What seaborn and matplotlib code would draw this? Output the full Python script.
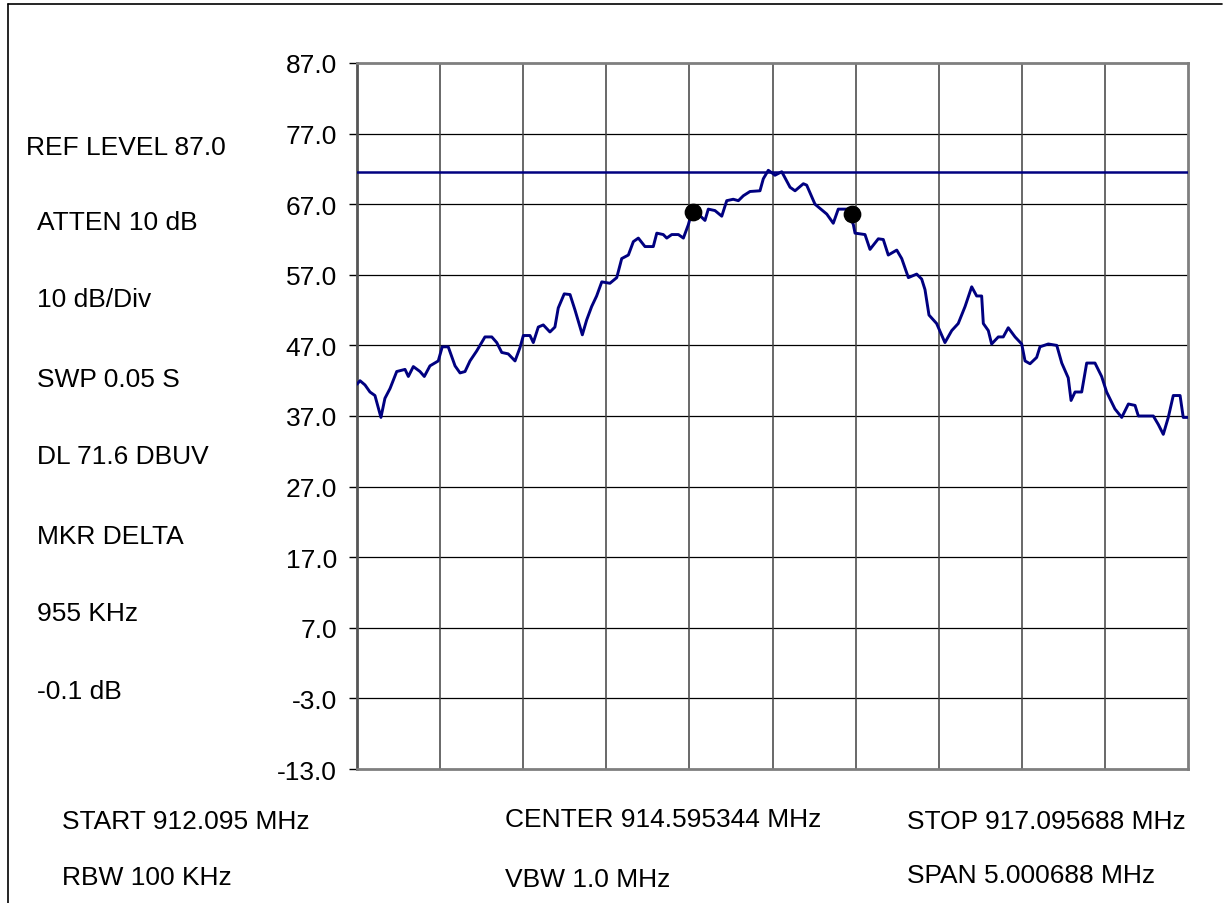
import matplotlib
matplotlib.use("Agg")
import matplotlib.pyplot as plt
import seaborn as sns
import pandas as pd
import numpy as np
from matplotlib.lines import Line2D

# ---- data ----
freq_mhz = [
    912.095, 912.113, 912.143, 912.173, 912.203, 912.239, 912.263, 912.294, 912.334, 912.384,
    912.404, 912.434, 912.474, 912.500, 912.534, 912.584, 912.608, 912.644, 912.685, 912.715,
    912.745, 912.775, 912.815, 912.865, 912.906, 912.936, 912.966, 913.005, 913.046, 913.076,
    913.096, 913.136, 913.156, 913.186, 913.216, 913.256, 913.286, 913.306, 913.342, 913.377,
    913.407, 913.451, 913.477, 913.507, 913.537, 913.568, 913.617, 913.658, 913.688, 913.728,
    913.758, 913.788, 913.828, 913.878, 913.899, 913.938, 913.959, 913.989, 914.029, 914.059,
    914.089, 914.109, 914.149, 914.189, 914.209, 914.249, 914.290, 914.320, 914.359, 914.390,
    914.420, 914.460, 914.520, 914.540, 914.570, 914.600, 914.610, 914.651, 914.701, 914.731,
    914.781, 914.801, 914.851, 914.922, 914.961, 914.991, 915.042, 915.082, 915.092, 915.152,
    915.182, 915.232, 915.262, 915.292, 915.343, 915.373, 915.413, 915.463, 915.493, 915.513,
    915.537, 915.583, 915.633, 915.674, 915.713, 915.754, 915.794, 915.824, 915.854, 915.864,
    915.894, 915.914, 915.954, 915.984, 916.014, 916.055, 916.095, 916.115, 916.145, 916.185,
    916.205, 916.255, 916.306, 916.336, 916.375, 916.392, 916.416, 916.456, 916.486, 916.536,
    916.576, 916.606, 916.656, 916.697, 916.737, 916.777, 916.797, 916.887, 916.917, 916.947,
    916.977, 917.007, 917.048, 917.067, 917.096,
]
level_dbuv = [
    41.5, 42.0, 41.4, 40.4, 39.9, 36.8, 39.5, 40.9, 43.3, 43.6,
    42.6, 44.0, 43.3, 42.6, 44.1, 44.8, 46.8, 46.8, 44.1, 43.1,
    43.3, 44.8, 46.2, 48.2, 48.2, 47.4, 46.0, 45.8, 44.8, 46.7,
    48.4, 48.4, 47.4, 49.6, 49.9, 48.9, 49.6, 52.3, 54.3, 54.2,
    52.0, 48.5, 50.6, 52.5, 54.0, 56.0, 55.8, 56.6, 59.3, 59.8,
    61.7, 62.2, 61.0, 61.0, 62.9, 62.7, 62.2, 62.7, 62.7, 62.2,
    64.1, 65.8, 65.6, 64.7, 66.3, 66.1, 65.3, 67.5, 67.7, 67.5,
    68.2, 68.8, 68.9, 70.6, 71.8, 71.3, 71.1, 71.6, 69.4, 68.9,
    69.9, 69.7, 67.0, 65.6, 64.3, 66.3, 66.3, 64.1, 62.9, 62.7,
    60.6, 62.1, 62.0, 59.8, 60.5, 59.3, 56.6, 57.1, 56.4, 54.9,
    51.3, 50.1, 47.4, 49.1, 50.1, 52.5, 55.3, 54.0, 54.0, 50.1,
    49.1, 47.2, 48.2, 48.2, 49.5, 48.2, 47.2, 44.8, 44.4, 45.3,
    46.8, 47.2, 47.0, 44.5, 42.4, 39.2, 40.4, 40.4, 44.5, 44.5,
    42.6, 40.4, 38.0, 36.8, 38.7, 38.5, 37.0, 37.0, 35.8, 34.4,
    36.8, 39.9, 39.9, 36.8, 36.8,
]
marker_freq = [914.117, 915.072]
marker_level = [65.9, 65.6]
display_line = 71.6

start_mhz = 912.095
stop_mhz = 917.095688
y_ticks = [87.0, 77.0, 67.0, 57.0, 47.0, 37.0, 27.0, 17.0, 7.0, -3.0, -13.0]

left_labels = ["REF LEVEL 87.0", "ATTEN 10 dB", "10 dB/Div", "SWP 0.05 S",
               "DL 71.6 DBUV", "MKR DELTA", "955 KHz", "-0.1 dB"]
bottom_row1 = ["START 912.095 MHz", "CENTER 914.595344 MHz", "STOP 917.095688 MHz"]
bottom_row2 = ["RBW 100 KHz", "VBW 1.0 MHz", "SPAN 5.000688 MHz"]

# ---- figure ----
sns.set_theme(style="white")
plt.rcParams["font.family"] = ["Liberation Sans", "DejaVu Sans"]

W, H = 1225, 904
FS = 19
fig = plt.figure(figsize=(W / 100, H / 100), dpi=100)
fig.patch.set_facecolor("white")

def px(x, y):
    return x / W, 1 - y / H

l, t = px(357, 64)
r, b = px(1188, 770)
ax = fig.add_axes([l, b, r - l, t - b])
ax.set_facecolor("white")

df = pd.DataFrame({"freq": freq_mhz, "level": level_dbuv})
navy = "#000080"
ax.axhline(display_line, color=navy, lw=1.8, zorder=3)
sns.lineplot(data=df, x="freq", y="level", ax=ax, color=navy, lw=2.1,
             estimator=None, sort=True, zorder=4)
mk = pd.DataFrame({"freq": marker_freq, "level": marker_level})
sns.scatterplot(data=mk, x="freq", y="level", ax=ax, color="black", s=140,
                edgecolor="black", zorder=5)

ax.set_xlim(start_mhz, stop_mhz)
ax.set_ylim(-13, 87)
span = stop_mhz - start_mhz
ax.set_xticks([start_mhz + span * i / 10 for i in range(11)])
ax.set_xticklabels([])
ax.set_yticks(y_ticks)
ax.set_yticklabels([f"{v:.1f}" for v in y_ticks])
ax.set_xlabel("")
ax.set_ylabel("")

ax.grid(False)
for v in y_ticks[1:-1]:
    ax.axhline(v, color="black", lw=0.9, zorder=1)
for i in range(1, 10):
    ax.axvline(start_mhz + span * i / 10, color="#404040", lw=1.1, zorder=1)

for s in ax.spines.values():
    s.set_color("#7f7f7f")
    s.set_linewidth(2.0)
    s.set_visible(True)
ax.spines["left"].set_color("#555555")

ax.tick_params(axis="y", which="both", left=True, length=6, width=1.0,
               color="black", pad=8.5, labelsize=FS, labelcolor="black")
ax.tick_params(axis="x", bottom=False, labelbottom=False)

# side texts
left_y = [148, 223, 300, 380, 457, 537, 614, 692]
for i, (txt, yy) in enumerate(zip(left_labels, left_y)):
    xx = 26 if i == 0 else 37
    fig.text(*px(xx, yy), txt, ha="left", va="center", fontsize=FS, color="black")

for txt, xx, yy in zip(bottom_row1, [62, 505, 907], [822, 820, 822]):
    fig.text(*px(xx, yy), txt, ha="left", va="center", fontsize=FS, color="black")
for txt, xx, yy in zip(bottom_row2, [62, 505, 907], [878, 880, 876]):
    fig.text(*px(xx, yy), txt, ha="left", va="center", fontsize=FS, color="black")

# outer frame (top and left edges)
fig.add_artist(Line2D([8 / W, 1222 / W], [1 - 5 / H, 1 - 5 / H],
                      transform=fig.transFigure, color="black", lw=1.2))
fig.add_artist(Line2D([8 / W, 8 / W], [1 - 5 / H, 0],
                      transform=fig.transFigure, color="black", lw=1.2))

fig.savefig("out.png", dpi=100, facecolor="white")
